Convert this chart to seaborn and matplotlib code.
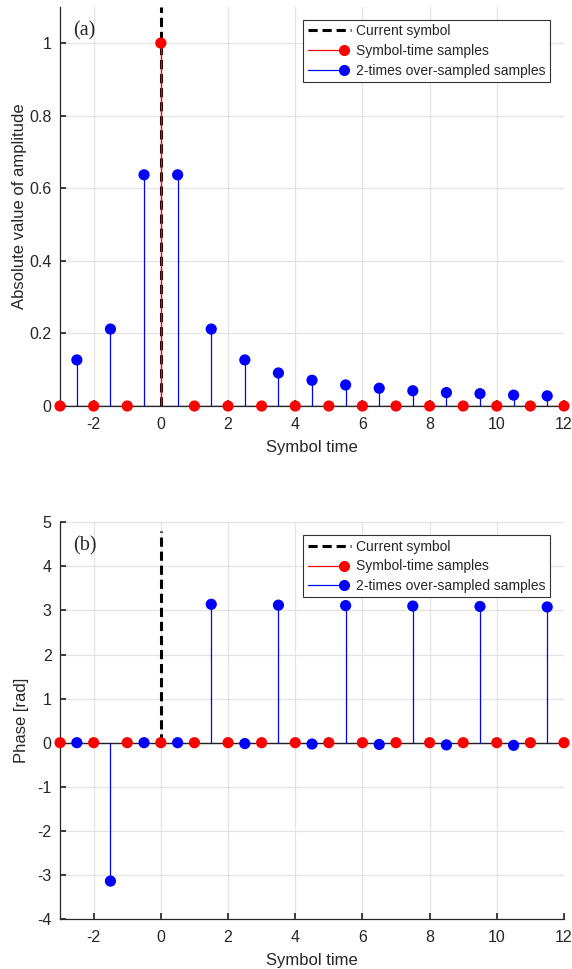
import numpy as np
import pandas as pd
import matplotlib
matplotlib.use("Agg")
import matplotlib.pyplot as plt
import seaborn as sns
from matplotlib.lines import Line2D
from matplotlib.legend_handler import HandlerBase

# ---- data ----
sym_t = [-3, -2, -1, 0, 1, 2, 3, 4, 5, 6, 7, 8, 9, 10, 11, 12]
sym_amp = [0, 0, 0, 1, 0, 0, 0, 0, 0, 0, 0, 0, 0, 0, 0, 0]
sym_phase = [0, 0, 0, 0, 0, 0, 0, 0, 0, 0, 0, 0, 0, 0, 0, 0]

os_t = [-2.5, -1.5, -0.5, 0.5, 1.5, 2.5, 3.5, 4.5, 5.5, 6.5, 7.5, 8.5, 9.5, 10.5, 11.5]
os_amp = [0.127, 0.212, 0.637, 0.637, 0.212, 0.127, 0.091, 0.071, 0.058, 0.049,
          0.042, 0.037, 0.034, 0.030, 0.028]
os_phase = [0.0, -3.14, 0.0, 0.0, 3.14, -0.02, 3.12, -0.03, 3.11, -0.04,
            3.10, -0.05, 3.09, -0.06, 3.08]

x_ticks = [-2, 0, 2, 4, 6, 8, 10, 12]
legend_labels = ["Current symbol", "Symbol-time samples", "2-times over-sampled samples"]

sns.set_theme(style="whitegrid")
plt.rcParams["font.family"] = ["Liberation Sans", "DejaVu Sans"]
plt.rcParams["axes.unicode_minus"] = False

fig = plt.figure(figsize=(5.72, 9.69), dpi=100)
ax1 = fig.add_axes([0.105, 0.581, 0.881, 0.412])
ax2 = fig.add_axes([0.105, 0.0516, 0.881, 0.4094])

RED = "#ff0000"
BLUE = "#0000ff"
DASH = (0, (3.0, 1.6))


class RightMarker(HandlerBase):
    def create_artists(self, legend, orig, xd, yd, w, h, fs, trans):
        y = 0.5 * h - yd
        ln = Line2D([-xd, -xd + w - 3], [y, y], color=orig.get_color(),
                    linewidth=orig.get_linewidth(), transform=trans)
        mk = Line2D([-xd + w - 5], [y], marker="o", markersize=8, linestyle="none",
                    markerfacecolor=orig.get_color(), markeredgecolor="none",
                    transform=trans)
        return [ln, mk]


def draw(ax, yvals_sym, yvals_os, ylim, yticks, ylabel, tag, cur_top, ylpad):
    ax.set_xlim(-3, 12)
    ax.set_ylim(*ylim)
    ax.set_xticks(x_ticks)
    ax.set_yticks(yticks)
    ax.grid(True, color="#e3e3e3", linewidth=0.9)
    ax.set_axisbelow(True)
    ax.axhline(0, color="#222222", linewidth=1.0, zorder=2)
    ax.vlines(os_t, 0, yvals_os, color=BLUE, linewidth=0.9, zorder=3)
    ax.vlines([0], 0, cur_top, color="black", linestyle=DASH, linewidth=2.2, zorder=4)
    ax.vlines(sym_t, 0, yvals_sym, color=RED, linewidth=1.0, zorder=5)
    df_os = pd.DataFrame({"t": os_t, "y": yvals_os})
    df_sym = pd.DataFrame({"t": sym_t, "y": yvals_sym})
    sns.scatterplot(data=df_os, x="t", y="y", ax=ax, color=BLUE, s=65,
                    edgecolor="none", zorder=6, legend=False, clip_on=False)
    sns.scatterplot(data=df_sym, x="t", y="y", ax=ax, color=RED, s=65,
                    edgecolor="none", zorder=7, legend=False, clip_on=False)
    ax.set_xlabel("Symbol time", fontsize=12, labelpad=6)
    ax.set_ylabel(ylabel, fontsize=12, labelpad=ylpad)
    ax.tick_params(axis="x", pad=8)
    ax.tick_params(axis="y", pad=6)
    ax.tick_params(axis="both", labelsize=11.5, direction="in", length=4,
                   color="#262626", left=True, bottom=True)
    for s in ["top", "right"]:
        ax.spines[s].set_visible(False)
    for s in ["left", "bottom"]:
        ax.spines[s].set_visible(True)
        ax.spines[s].set_color("#262626")
        ax.spines[s].set_linewidth(0.9)
    ax.text(0.025, 0.965, tag, transform=ax.transAxes, fontsize=14.5,
            family=["Liberation Serif", "DejaVu Serif"], va="top", ha="left")
    h_cur = Line2D([], [], color="black", linestyle=DASH, linewidth=2.2)
    h_sym = Line2D([], [], color=RED, linewidth=0.9)
    h_os = Line2D([], [], color=BLUE, linewidth=0.9)
    leg = ax.legend([h_cur, h_sym, h_os], legend_labels, loc="upper right",
                    bbox_to_anchor=(0.972, 0.967), fontsize=10, frameon=True,
                    fancybox=False, framealpha=1, edgecolor="#333333",
                    handlelength=3.1, handletextpad=0.4, borderpad=0.3,
                    labelspacing=0.42, borderaxespad=0,
                    handler_map={h_sym: RightMarker(), h_os: RightMarker()})
    leg.get_frame().set_linewidth(0.8)


draw(ax1, sym_amp, os_amp, (0, 1.1), [0, 0.2, 0.4, 0.6, 0.8, 1],
     "Absolute value of amplitude", "(a)", 1.1, 2)
draw(ax2, sym_phase, os_phase, (-4, 5), [-4, -3, -2, -1, 0, 1, 2, 3, 4, 5],
     "Phase [rad]", "(b)", 4.8, 6)
ax1.set_yticklabels(["0", "0.2", "0.4", "0.6", "0.8", "1"])

fig.savefig("out.png", dpi=100)
